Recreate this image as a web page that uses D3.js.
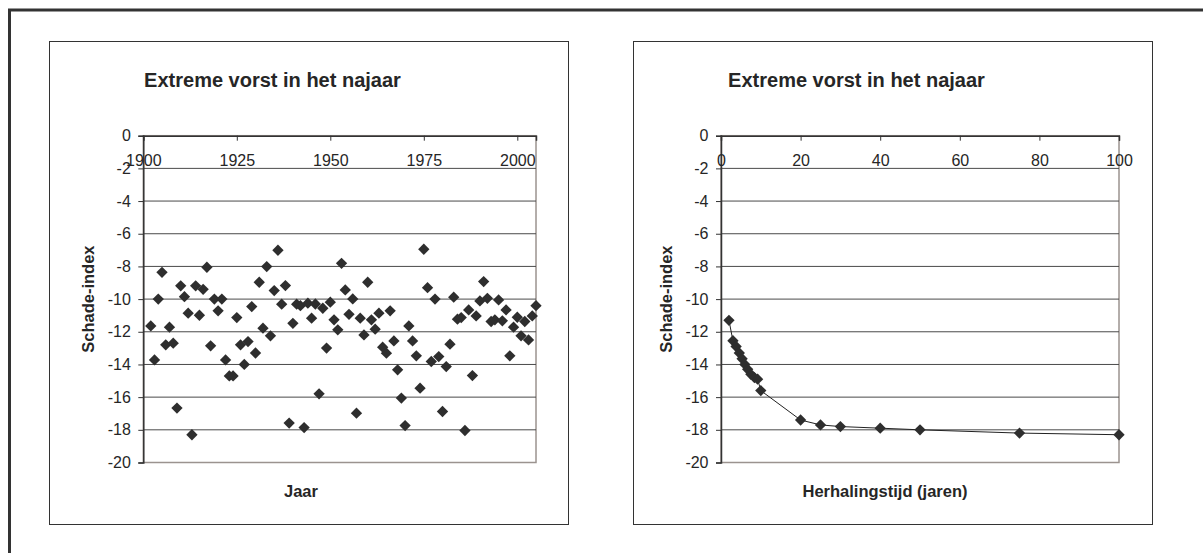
<!DOCTYPE html>
<html>
<head>
<meta charset="utf-8">
<script src="https://cdn.jsdelivr.net/npm/d3@7"></script>
<style>
  html, body { margin: 0; padding: 0; background: #fff; }
  svg { display: block; }
  text { font-family: "Liberation Sans", Arial, sans-serif; fill: #262626; }
</style>
</head>
<body>
<svg id="chart" width="1203" height="553"></svg>
<script>
// Yearly autumn frost damage index
const years = [
  1902, 1903, 1904, 1905, 1906, 1907, 1908, 1909, 1910, 1911,
  1912, 1913, 1914, 1915, 1916, 1917, 1918, 1919, 1920, 1921,
  1922, 1923, 1924, 1925, 1926, 1927, 1928, 1929, 1930, 1931,
  1932, 1933, 1934, 1935, 1936, 1937, 1938, 1939, 1940, 1941,
  1942, 1943, 1944, 1945, 1946, 1947, 1948, 1949, 1950, 1951,
  1952, 1953, 1954, 1955, 1956, 1957, 1958, 1959, 1960, 1961,
  1962, 1963, 1964, 1965, 1966, 1967, 1968, 1969, 1970, 1971,
  1972, 1973, 1974, 1975, 1976, 1977, 1978, 1979, 1980, 1981,
  1982, 1983, 1984, 1985, 1986, 1987, 1988, 1989, 1990, 1991,
  1992, 1993, 1994, 1995, 1996, 1997, 1998, 1999, 2000, 2001,
  2002, 2003, 2004, 2005
];
const yearIndex = [
  -11.64, -13.72, -10.0, -8.36, -12.8, -11.72, -12.7, -16.67, -9.19, -9.85,
  -10.86, -18.3, -9.19, -10.99, -9.4, -8.05, -12.86, -10.0, -10.72, -10.0,
  -13.72, -14.7, -14.7, -11.13, -12.8, -14.0, -12.6, -10.46, -13.3, -8.97,
  -11.78, -8.01, -12.25, -9.48, -7.01, -10.31, -9.17, -17.59, -11.48, -10.31,
  -10.4, -17.86, -10.25, -11.17, -10.3, -15.8, -10.56, -13.0, -10.19, -11.27,
  -11.88, -7.81, -9.44, -10.93, -9.99, -16.98, -11.17, -12.19, -8.97, -11.27,
  -11.84, -10.86, -12.94, -13.31, -10.72, -12.56, -14.33, -16.06, -17.74, -11.64,
  -12.56, -13.47, -15.45, -6.95, -9.3, -13.82, -10.0, -13.52, -16.88, -14.13,
  -12.76, -9.88, -11.23, -11.13, -18.04, -10.66, -14.68, -11.03, -10.11, -8.93,
  -9.95, -11.37, -11.27, -10.05, -11.33, -10.66, -13.47, -11.72, -11.11, -12.25,
  -11.37, -12.5, -11.03, -10.4
];

// Index against return period
const returnPeriods = [2, 3, 3.8, 4.6, 5.3, 6, 6.7, 7.5, 8.4, 9.2, 10, 20, 25, 30, 40, 50, 75, 100];
const returnIndex = [-11.3, -12.55, -12.9, -13.3, -13.65, -14.0, -14.3, -14.6, -14.8, -14.9, -15.6, -17.4, -17.7, -17.8, -17.9, -18.0, -18.2, -18.3];

const yTicks = [0, -2, -4, -6, -8, -10, -12, -14, -16, -18, -20];
const yearTicks = [1900, 1925, 1950, 1975, 2000];
const periodTicks = [0, 20, 40, 60, 80, 100];

const titleText = "Extreme vorst in het najaar";
const yTitle = "Schade-index";

const svg = d3.select("#chart");

// outer frame
svg.append("rect")
  .attr("x", 9.5).attr("y", 10)
  .attr("width", 1220).attr("height", 560)
  .attr("fill", "none").attr("stroke", "#333").attr("stroke-width", 3);

const diamond = d3.symbol().type(d3.symbolSquare).size(64);

function panel(opts) {
  const g = svg.append("g");
  // chart box
  g.append("rect")
    .attr("x", opts.box[0] + 0.5).attr("y", opts.box[1] + 0.5)
    .attr("width", opts.box[2]).attr("height", opts.box[3])
    .attr("fill", "#fff").attr("stroke", "#333").attr("stroke-width", 1);

  const x = d3.scaleLinear().domain(opts.xDomain).range([opts.plot[0], opts.plot[1]]);
  const y = d3.scaleLinear().domain([0, -20]).range([opts.plot[2], opts.plot[3]]);

  // title
  g.append("text")
    .attr("x", opts.box[0] + 223.5).attr("y", 87)
    .attr("text-anchor", "middle")
    .style("font-size", "20px").style("font-weight", "bold")
    .text(titleText);

  // plot area border
  g.append("rect")
    .attr("x", opts.plot[0]).attr("y", opts.plot[2])
    .attr("width", opts.plot[1] - opts.plot[0]).attr("height", opts.plot[3] - opts.plot[2])
    .attr("fill", "none").attr("stroke", "#9b938f").attr("stroke-width", 1.5);

  // horizontal gridlines
  g.append("g").selectAll("line")
    .data(yTicks.filter(d => d !== 0 && d !== -20))
    .join("line")
    .attr("x1", opts.plot[0]).attr("x2", opts.plot[1])
    .attr("y1", d => y(d)).attr("y2", d => y(d))
    .attr("stroke", "#4a4a4a").attr("stroke-width", 1);

  // y axis
  const yAxis = d3.axisLeft(y).tickValues(yTicks).tickSize(5).tickPadding(7.5)
    .tickFormat(d => d === 0 ? "0" : "-" + Math.abs(d));
  const ya = g.append("g").attr("transform", `translate(${opts.plot[0]},0)`).call(yAxis);
  ya.select(".domain").attr("stroke", "#333").attr("stroke-width", 1.5);
  ya.selectAll(".tick line").attr("stroke", "#333");
  ya.selectAll(".tick text").style("font-size", "16px").style("font-family", '"Liberation Sans", Arial, sans-serif').attr("fill", "#262626");

  // x axis along the zero line
  const xAxis = d3.axisBottom(x).tickValues(opts.xTicks).tickSize(5).tickPadding(14)
    .tickFormat(d3.format("d"));
  const xa = g.append("g").attr("transform", `translate(0,${y(0)})`).call(xAxis);
  xa.select(".domain").attr("stroke", "#333").attr("stroke-width", 1.5);
  xa.selectAll(".tick line").attr("stroke", "#333");
  xa.selectAll(".tick text").style("font-size", "16px").style("font-family", '"Liberation Sans", Arial, sans-serif').attr("fill", "#262626");

  // connecting line
  if (opts.line) {
    g.append("path")
      .datum(opts.xs.map((v, i) => [v, opts.ys[i]]))
      .attr("d", d3.line().x(d => x(d[0])).y(d => y(d[1])))
      .attr("fill", "none").attr("stroke", "#222").attr("stroke-width", 1);
  }

  // markers
  g.append("g").selectAll("path")
    .data(opts.xs.map((v, i) => [v, opts.ys[i]]))
    .join("path")
    .attr("d", diamond)
    .attr("transform", d => `translate(${x(d[0])},${y(d[1])}) rotate(45)`)
    .attr("fill", "#2e2e2e");

  // axis titles
  g.append("text")
    .attr("transform", `translate(${opts.plot[0] - 55},${(opts.plot[2] + opts.plot[3]) / 2}) rotate(-90)`)
    .attr("text-anchor", "middle").attr("dy", "0.35em")
    .style("font-size", "16.5px").style("font-weight", "bold")
    .text(yTitle);

  g.append("text")
    .attr("x", opts.box[0] + 252).attr("y", 497)
    .attr("text-anchor", "middle")
    .style("font-size", "16.5px").style("font-weight", "bold")
    .text(opts.xTitle);
}

panel({
  box: [49, 41, 519, 483],
  plot: [143.3, 536, 135.7, 462.5],
  xDomain: [1900, 2005],
  xTicks: yearTicks,
  xs: years, ys: yearIndex,
  line: false,
  xTitle: "Jaar"
});

panel({
  box: [633, 41, 519, 483],
  plot: [721, 1119, 135.7, 462.5],
  xDomain: [0, 100],
  xTicks: periodTicks,
  xs: returnPeriods, ys: returnIndex,
  line: true,
  xTitle: "Herhalingstijd (jaren)"
});
</script>
</body>
</html>
